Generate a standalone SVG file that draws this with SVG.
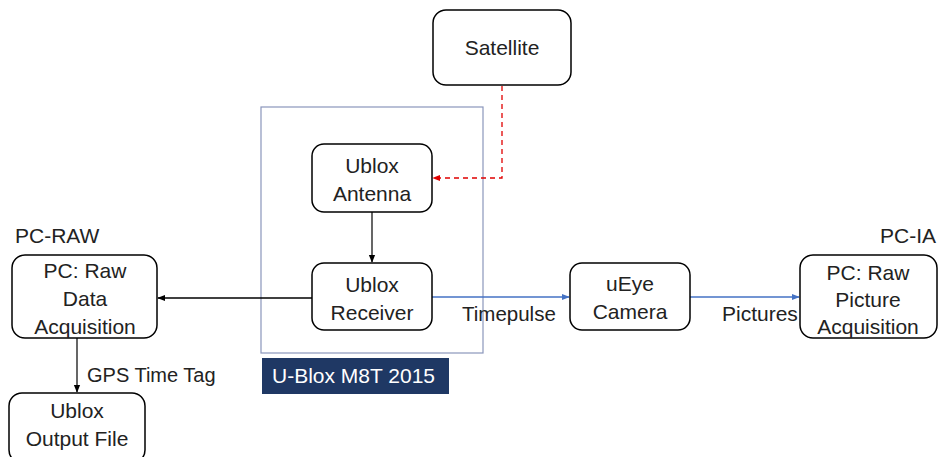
<svg xmlns="http://www.w3.org/2000/svg" width="939" height="457" viewBox="0 0 939 457">
<defs>
<style>
.n{fill:#fff;stroke:#000;stroke-width:1.5}
.t{font-family:"Liberation Sans",Arial,sans-serif;font-size:21px;fill:#222;text-anchor:middle}
.l{font-family:"Liberation Sans",Arial,sans-serif;font-size:21px;fill:#222}
</style>
<marker id="ak" viewBox="0 0 10 10" refX="9" refY="5" markerWidth="8" markerHeight="8" markerUnits="userSpaceOnUse" orient="auto"><path d="M0,1 L10,5 L0,9 z" fill="#000"/></marker>
<marker id="ab" viewBox="0 0 10 10" refX="9" refY="5" markerWidth="8" markerHeight="8" markerUnits="userSpaceOnUse" orient="auto"><path d="M0,1 L10,5 L0,9 z" fill="#4472C4"/></marker>
<marker id="ar" viewBox="0 0 10 10" refX="9" refY="5" markerWidth="8" markerHeight="8" markerUnits="userSpaceOnUse" orient="auto"><path d="M0,1 L10,5 L0,9 z" fill="#E00000"/></marker>
</defs>
<rect width="939" height="457" fill="#fff"/>
<g id="container">
<rect x="261" y="107" width="222" height="246" fill="none" stroke="#8a96bb" stroke-width="1.2"/>
<rect x="262" y="358" width="187" height="36" fill="#1F3864"/>
<text x="272" y="383" class="l" style="fill:#fff">U-Blox M8T 2015</text>
</g>
<g id="connectors" fill="none">
<path d="M502,86 V178 H433" stroke="#E00000" stroke-width="1.3" stroke-dasharray="5,4" marker-end="url(#ar)"/>
<path d="M372,212 V262" stroke="#000" stroke-width="1.2" marker-end="url(#ak)"/>
<path d="M312,298 H158" stroke="#000" stroke-width="1.3" marker-end="url(#ak)"/>
<path d="M432,297 H569" stroke="#4472C4" stroke-width="1.5" marker-end="url(#ab)"/>
<path d="M690,297 H799" stroke="#4472C4" stroke-width="1.5" marker-end="url(#ab)"/>
<path d="M77,338 V392" stroke="#000" stroke-width="1.2" marker-end="url(#ak)"/>
<text x="462" y="321" class="l" style="font-size:20.5px">Timepulse</text>
<text x="722" y="321" class="l">Pictures</text>
<text x="87" y="382" class="l" style="font-size:20px">GPS Time Tag</text>
</g>
<g id="satellite">
<rect x="433" y="10" width="138" height="75" rx="13" class="n"/>
<text x="502" y="55" class="t">Satellite</text>
</g>
<g id="antenna">
<rect x="312" y="144" width="120" height="68" rx="12" class="n"/>
<text x="372" y="173" class="t">Ublox</text>
<text x="372" y="201" class="t">Antenna</text>
</g>
<g id="receiver">
<rect x="312" y="263" width="120" height="67" rx="12" class="n"/>
<text x="372" y="292" class="t">Ublox</text>
<text x="372" y="320" class="t">Receiver</text>
</g>
<g id="pc-raw">
<text x="15" y="243" class="l">PC-RAW</text>
<rect x="12" y="255" width="145" height="83" rx="13" class="n"/>
<text x="85" y="278" class="t">PC: Raw</text>
<text x="85" y="306" class="t">Data</text>
<text x="85" y="334" class="t">Acquisition</text>
</g>
<g id="output-file">
<rect x="9" y="393" width="136" height="70" rx="13" class="n"/>
<text x="77" y="418" class="t">Ublox</text>
<text x="77" y="446" class="t">Output File</text>
</g>
<g id="camera">
<rect x="570" y="263" width="120" height="67" rx="12" class="n"/>
<text x="630" y="291" class="t">uEye</text>
<text x="630" y="319" class="t">Camera</text>
</g>
<g id="pc-ia">
<text x="880" y="243" class="l">PC-IA</text>
<rect x="800" y="255" width="137" height="83" rx="13" class="n"/>
<text x="868" y="280" class="t">PC: Raw</text>
<text x="868" y="307" class="t">Picture</text>
<text x="868" y="334" class="t">Acquisition</text>
</g>
</svg>
